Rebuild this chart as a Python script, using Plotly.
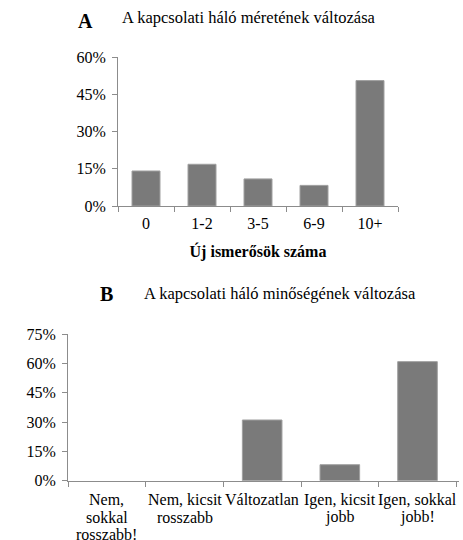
import plotly.graph_objects as go

size_categories = ["0", "1-2", "3-5", "6-9", "10+"]
size_values = [14.1, 16.8, 10.9, 8.3, 50.5]

quality_categories = ["Nem, sokkal rosszabb!", "Nem, kicsit rosszabb", "Változatlan",
                      "Igen, kicsit jobb", "Igen, sokkal jobb!"]
quality_label_lines = [["Nem,", "sokkal", "rosszabb!"], ["Nem, kicsit", "rosszabb"], ["Változatlan"],
                       ["Igen, kicsit", "jobb"], ["Igen, sokkal", "jobb!"]]
quality_values = [0, 0, 31.1, 8.2, 61.0]

W, H = 463, 540
FONT = "Liberation Serif, Times New Roman, serif"
BAR = "#7a7a7a"
AX = "#8c8c8c"

def bar_line(vals):
    return dict(color="#a0a0a0", width=[0 if v == 0 else 1 for v in vals])

fig = go.Figure()
fig.add_trace(go.Bar(x=size_categories, y=size_values, xaxis="x", yaxis="y",
                     marker=dict(color=BAR, line=bar_line(size_values)), width=0.5))
fig.add_trace(go.Bar(x=quality_categories, y=quality_values, xaxis="x2", yaxis="y2",
                     marker=dict(color=BAR, line=bar_line(quality_values)), width=0.51))

def px_x(v):
    return v / W

def px_y(v):
    return 1 - v / H

axis_common = dict(showgrid=False, zeroline=False, showline=True, linecolor=AX, linewidth=1,
                   ticks="outside", tickcolor=AX, ticklen=5, tickfont=dict(family=FONT, size=16, color="#000"),
                   fixedrange=True, automargin=False)

annotations = [
    dict(text="<b>A</b>", x=px_x(85), y=px_y(21), xref="paper", yref="paper", showarrow=False,
         font=dict(family=FONT, size=20), xanchor="center", yanchor="middle"),
    dict(text="A kapcsolati háló méretének változása", x=px_x(120), y=px_y(18), xref="paper", yref="paper",
         showarrow=False, font=dict(family=FONT, size=16.5), xanchor="left", yanchor="middle"),
    dict(text="<b>B</b>", x=px_x(106), y=px_y(294), xref="paper", yref="paper", showarrow=False,
         font=dict(family=FONT, size=20), xanchor="center", yanchor="middle"),
    dict(text="A kapcsolati háló minőségének változása", x=px_x(142), y=px_y(293), xref="paper", yref="paper",
         showarrow=False, font=dict(family=FONT, size=16.5), xanchor="left", yanchor="middle"),
]
# multi-line category labels for chart B (tighter line spacing than Plotly tick labels)
for cat, lines in zip(quality_categories, quality_label_lines):
    for i, line in enumerate(lines):
        annotations.append(dict(text=line, x=cat, y=0, xref="x2", yref="y2", showarrow=False,
                                xanchor="center", yanchor="middle", yshift=-(19 + 17.5 * i),
                                font=dict(family=FONT, size=16, color="#000")))

fig.update_layout(
    width=W, height=H, margin=dict(l=0, r=0, t=0, b=0),
    paper_bgcolor="white", plot_bgcolor="white", showlegend=False,
    font=dict(family=FONT, color="#000"),
    xaxis=dict(domain=[px_x(118), px_x(398)], anchor="y", tickson="boundaries", tickangle=0,
               ticklabelstandoff=3,
               title=dict(text="<b>Új ismerősök száma</b>", font=dict(family=FONT, size=16), standoff=14),
               **axis_common),
    yaxis=dict(domain=[px_y(206), px_y(57)], anchor="x", range=[0, 60], dtick=15, ticksuffix="%",
               ticklabelstandoff=3, **axis_common),
    xaxis2=dict(domain=[px_x(68), px_x(459)], anchor="y2", tickson="boundaries", tickangle=0,
                showticklabels=False, **axis_common),
    yaxis2=dict(domain=[px_y(480.7), px_y(334.3)], anchor="x2", range=[0, 75], dtick=15, ticksuffix="%",
                ticklabelstandoff=3, **axis_common),
    annotations=annotations,
)

fig.write_html(
    "out.html",
    config={"displayModeBar": False, "staticPlot": False},
    post_script="document.body.style.margin='0';document.documentElement.style.overflow='hidden';document.body.style.overflow='hidden';",
)
